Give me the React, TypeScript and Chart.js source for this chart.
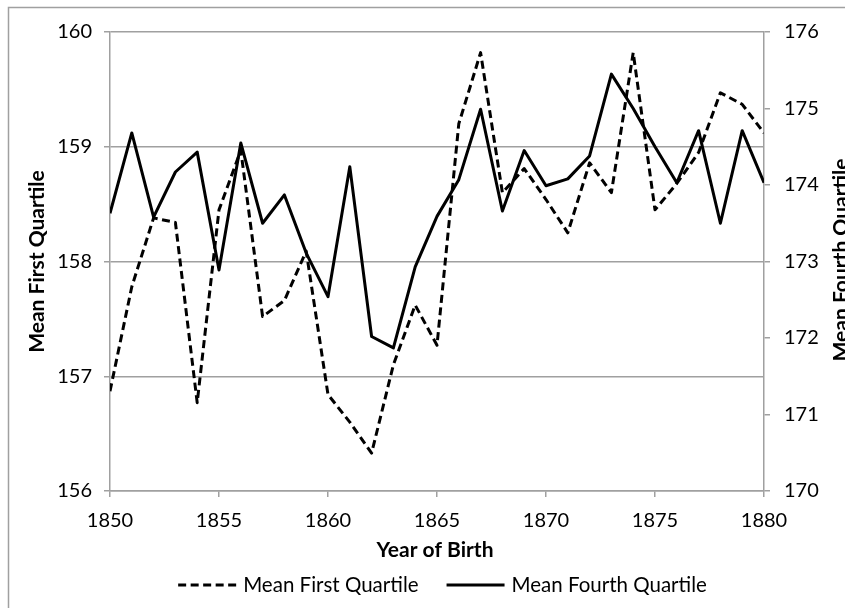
import React, { useEffect, useRef } from "react";
import { Chart, registerables } from "chart.js";

Chart.register(...registerables);

// ---- data ----
const years = [
  1850, 1851, 1852, 1853, 1854, 1855, 1856, 1857, 1858, 1859,
  1860, 1861, 1862, 1863, 1864, 1865, 1866, 1867, 1868, 1869,
  1870, 1871, 1872, 1873, 1874, 1875, 1876, 1877, 1878, 1879, 1880,
];

const firstQuartile = [
  156.87, 157.78, 158.38, 158.34, 156.77, 158.45, 158.97, 157.52, 157.66, 158.09,
  156.84, 156.6, 156.33, 157.1, 157.62, 157.27, 159.2, 159.82, 158.6, 158.81,
  158.54, 158.25, 158.86, 158.6, 159.82, 158.45, 158.68, 158.95, 159.47, 159.37, 159.12,
];

const fourthQuartile = [
  173.63, 174.68, 173.58, 174.17, 174.43, 172.89, 174.55, 173.5, 173.87, 173.11,
  172.54, 174.24, 172.02, 171.87, 172.93, 173.59, 174.07, 174.99, 173.66, 174.45,
  173.99, 174.08, 174.38, 175.45, 175.0, 174.5, 174.03, 174.71, 173.5, 174.71, 174.03,
];

const seriesLabels = ["Mean First Quartile", "Mean Fourth Quartile"];
const xTitle = "Year of Birth";
const yTitle = "Mean First Quartile";
const y1Title = "Mean Fourth Quartile";

const xRange = [1850, 1880];
const yRange = [156, 160];
const y1Range = [170, 176];

// ---- style ----
const FONT = "Lato, 'DejaVu Sans', sans-serif";
const GRID = "#a0a0a0";
const INK = "#000000";

const decorPlugin = {
  id: "decor",
  afterDraw(chart: any) {
    const { ctx, chartArea: ca } = chart;
    ctx.save();

    // outer chart border (cropped by the window on the right and bottom)
    ctx.strokeStyle = GRID;
    ctx.lineWidth = 1.5;
    ctx.setLineDash([]);
    ctx.strokeRect(8.5, 7.5, 3000, 3000);

    // axis titles
    ctx.fillStyle = INK;
    ctx.font = `bold 21px ${FONT}`;
    ctx.textBaseline = "alphabetic";
    ctx.textAlign = "center";
    ctx.fillText(xTitle, (ca.left + ca.right) / 2 - 2, ca.bottom + 66);

    ctx.save();
    ctx.translate(ca.left - 66.5, (ca.top + ca.bottom) / 2);
    ctx.rotate(-Math.PI / 2);
    ctx.fillText(yTitle, 0, 0);
    ctx.restore();

    ctx.save();
    ctx.translate(ca.right + 84, (ca.top + ca.bottom) / 2 - 1.5);
    ctx.rotate(-Math.PI / 2);
    ctx.fillText(y1Title, 0, 0);
    ctx.restore();

    // legend
    const datasets = chart.data.datasets;
    ctx.font = `20.5px ${FONT}`;
    const lineLen = 58;
    const gapText = 7;
    const gapItem = 28;
    const widths = datasets.map((d: any) => ctx.measureText(d.label).width);
    const total =
      widths.reduce((a: number, w: number) => a + lineLen + gapText + w, 0) +
      gapItem * (datasets.length - 1);
    let x = (ca.left + ca.right) / 2 + 5.5 - total / 2;
    const yLine = ca.bottom + 94;
    const yText = ca.bottom + 101;
    datasets.forEach((d: any, i: number) => {
      ctx.beginPath();
      ctx.setLineDash(d.borderDash || []);
      ctx.lineWidth = 3;
      ctx.strokeStyle = INK;
      ctx.moveTo(x, yLine);
      ctx.lineTo(x + lineLen, yLine);
      ctx.stroke();
      ctx.setLineDash([]);
      x += lineLen + gapText;
      ctx.textAlign = "left";
      ctx.fillText(d.label, x, yText);
      x += widths[i] + gapItem;
    });

    ctx.restore();
  },
};

export default function App() {
  const canvasRef = useRef<HTMLCanvasElement | null>(null);

  useEffect(() => {
    if (!canvasRef.current) return;
    const tickFont = { family: FONT, size: 20 };
    const plain = (v: any) => String(v);
    const chart = new Chart(canvasRef.current, {
      type: "line",
      data: {
        datasets: [
          {
            label: seriesLabels[0],
            data: years.map((yr, i) => ({ x: yr, y: firstQuartile[i] })),
            yAxisID: "y",
            borderColor: INK,
            backgroundColor: INK,
            borderWidth: 3,
            borderDash: [8, 4.5],
            borderJoinStyle: "round",
            pointRadius: 0,
            tension: 0,
            fill: false,
          },
          {
            label: seriesLabels[1],
            data: years.map((yr, i) => ({ x: yr, y: fourthQuartile[i] })),
            yAxisID: "y1",
            borderColor: INK,
            backgroundColor: INK,
            borderWidth: 3,
            borderJoinStyle: "round",
            pointRadius: 0,
            tension: 0,
            fill: false,
          },
        ],
      },
      options: {
        animation: false,
        responsive: true,
        maintainAspectRatio: false,
        layout: { padding: { top: 32, left: 0, right: 0, bottom: 0 } },
        plugins: {
          legend: { display: false },
          tooltip: { enabled: false },
          title: { display: false },
        },
        scales: {
          x: {
            type: "linear",
            min: xRange[0],
            max: xRange[1],
            ticks: { stepSize: 5, font: tickFont, color: INK, padding: 12, maxRotation: 0, callback: plain },
            grid: { drawOnChartArea: false, drawTicks: true, tickLength: 6, color: GRID, lineWidth: 1.5 },
            border: { color: GRID, width: 1.5 },
            afterFit: (s: any) => {
              s.height = 117;
            },
          },
          y: {
            type: "linear",
            position: "left",
            min: yRange[0],
            max: yRange[1],
            ticks: { stepSize: 1, font: tickFont, color: INK, padding: 12, callback: plain },
            grid: { drawOnChartArea: true, drawTicks: true, tickLength: 6, color: GRID, lineWidth: 1.5 },
            border: { color: GRID, width: 1.5 },
            afterFit: (s: any) => {
              s.width = 110;
            },
          },
          y1: {
            type: "linear",
            position: "right",
            min: y1Range[0],
            max: y1Range[1],
            ticks: { stepSize: 1, font: tickFont, color: INK, padding: 14, callback: plain },
            grid: { drawOnChartArea: false, drawTicks: true, tickLength: 6, color: GRID, lineWidth: 1.5 },
            border: { color: GRID, width: 1.5 },
            afterFit: (s: any) => {
              s.width = 81;
            },
          },
        },
      },
      plugins: [decorPlugin],
    } as any);
    return () => chart.destroy();
  }, []);

  return (
    <div style={{ position: "fixed", left: 0, top: 0, width: 845, height: 608, background: "#fff" }}>
      <canvas ref={canvasRef} />
    </div>
  );
}
